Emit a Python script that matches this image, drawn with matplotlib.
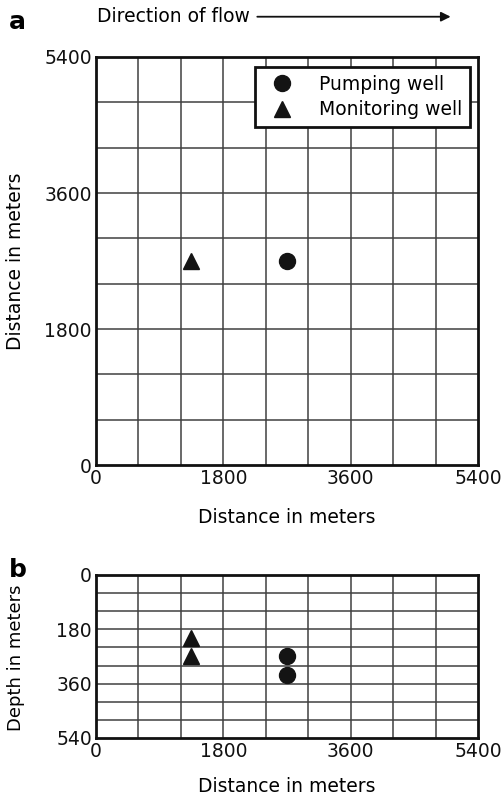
import numpy as np
import matplotlib
matplotlib.use("Agg")
import matplotlib.pyplot as plt

# plan view: wells in the horizontal plane (m)
plan_pump_x = [2700]
plan_pump_y = [2700]
plan_mon_x = [1350]
plan_mon_y = [2700]

# section view: screened depths (m)
sec_pump_x = [2700, 2700]
sec_pump_z = [270, 330]
sec_mon_x = [1350, 1350]
sec_mon_z = [210, 270]

dist_ticks = [0, 1800, 3600, 5400]
depth_ticks = [0, 180, 360, 540]
cell_dx = 600
cell_dz = 60

plt.rcParams['font.family'] = 'DejaVu Sans'
plt.rcParams['font.size'] = 13.5

fig = plt.figure(figsize=(5.01, 7.96), dpi=100)
ax1 = fig.add_axes([0.1916, 0.4158, 0.7625, 0.5126])
ax2 = fig.add_axes([0.1916, 0.0729, 0.7625, 0.2048])

mk = '#141414'
grid_c = '#404040'

def style(ax):
    for s in ax.spines.values():
        s.set_linewidth(2.0)
        s.set_color('#111111')
    ax.tick_params(length=0, pad=3, labelsize=13.5, colors='#111111')

# panel a
for v in np.arange(cell_dx, 5400, cell_dx):
    ax1.axvline(v, color=grid_c, lw=1.1, zorder=1)
    ax1.axhline(v, color=grid_c, lw=1.1, zorder=1)
ax1.plot(plan_pump_x, plan_pump_y, 'o', color=mk, ms=11.5, ls='none', label='Pumping well', zorder=3)
ax1.plot(plan_mon_x, plan_mon_y, '^', color=mk, ms=11.5, ls='none', label='Monitoring well', zorder=3)
ax1.set_xlim(0, 5400)
ax1.set_ylim(0, 5400)
ax1.set_xticks(dist_ticks)
ax1.set_yticks(dist_ticks)
ax1.set_xlabel('Distance in meters')
ax1.set_ylabel('Distance in meters')
ax1.xaxis.set_label_coords(0.5, -0.105)
ax1.yaxis.set_label_coords(-0.186, 0.5)
style(ax1)
leg = ax1.legend(loc='upper right', fancybox=False, framealpha=1, edgecolor='#111111',
                 fontsize=13.5, borderpad=0.4, handletextpad=1.0, labelspacing=0.35,
                 borderaxespad=0, bbox_to_anchor=(0.979, 0.975))
leg.get_frame().set_linewidth(2.0)

# panel b
for v in np.arange(cell_dx, 5400, cell_dx):
    ax2.axvline(v, color=grid_c, lw=1.1, zorder=1)
for d in np.arange(cell_dz, 540, cell_dz):
    ax2.axhline(d, color=grid_c, lw=1.1, zorder=1)
ax2.plot(sec_pump_x, sec_pump_z, 'o', color=mk, ms=11.5, ls='none', zorder=3)
ax2.plot(sec_mon_x, sec_mon_z, '^', color=mk, ms=11.5, ls='none', zorder=3)
ax2.set_xlim(0, 5400)
ax2.set_ylim(540, 0)
ax2.set_xticks(dist_ticks)
ax2.set_yticks(depth_ticks)
ax2.set_xlabel('Distance in meters')
ax2.set_ylabel('Depth in meters', fontsize=13)
ax2.xaxis.set_label_coords(0.5, -0.239)
ax2.yaxis.set_label_coords(-0.186, 0.49)
style(ax2)

# panel letters and flow direction
fig.text(0.018, 0.972, 'a', fontsize=18, fontweight='bold', va='center')
fig.text(0.018, 0.284, 'b', fontsize=18, fontweight='bold', va='center')
fig.text(0.193, 0.979, 'Direction of flow', fontsize=13.5, va='center')
fig.patches.append(matplotlib.patches.FancyArrowPatch(
    (0.508, 0.979), (0.905, 0.979), transform=fig.transFigure,
    arrowstyle='-|>', mutation_scale=14, lw=1.3, color='#111111'))

fig.savefig('out.png', dpi=100)
